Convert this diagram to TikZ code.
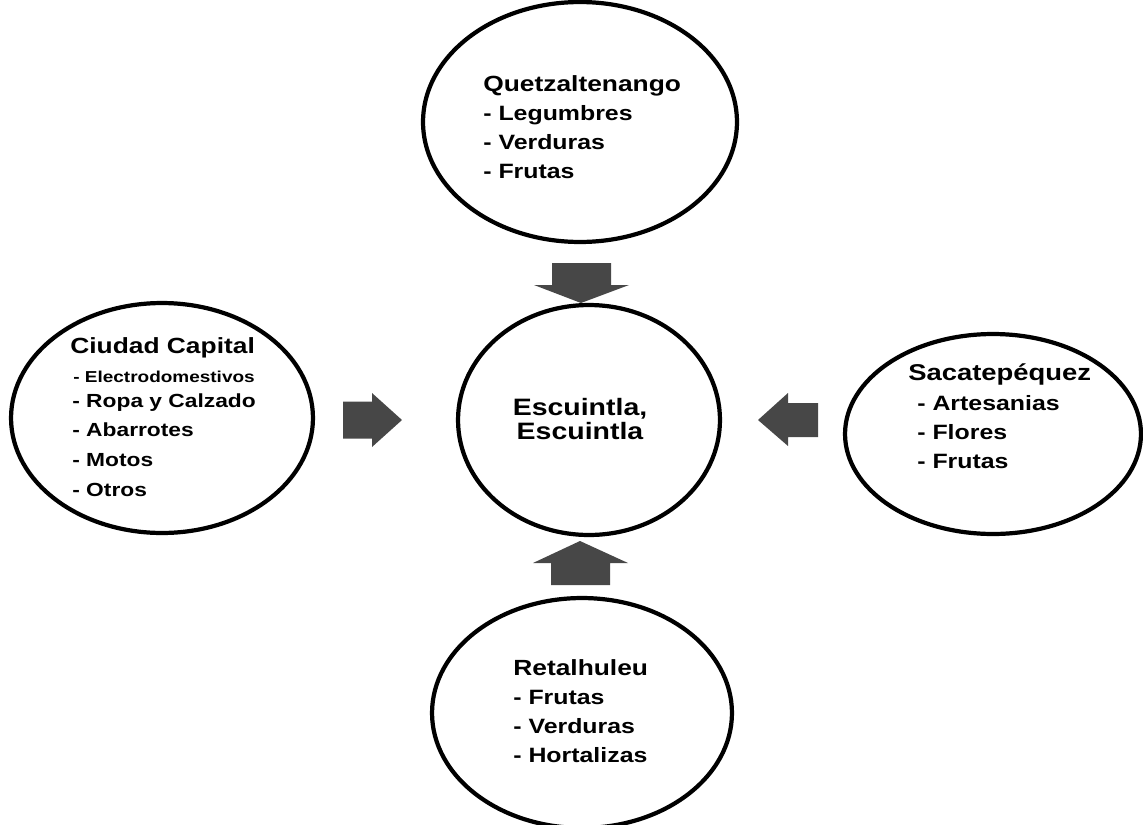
\documentclass[tikz,border=0pt]{standalone}
\usepackage{fontspec}
\setmainfont{Liberation Sans}[FakeStretch=1.2]
\usetikzlibrary{shapes.geometric}

\newcommand{\titlefont}{\bfseries\fontsize{12.5}{15}\selectfont}
\newcommand{\itemfont}{\bfseries\fontsize{11.8}{16.5}\selectfont}

\begin{document}
\begin{tikzpicture}[
    x=0.02cm, y=-0.02cm,
    region/.style={ellipse, draw, line width=2.4pt, inner sep=0},
    title/.style={anchor=base west, inner sep=0, font=\titlefont},
    items/.style={anchor=north west, inner sep=0, align=left, font=\itemfont},
    flow/.style={fill=black!72}
]
\useasboundingbox (0,0) rectangle (1143,825);

% Regions
\node[region, minimum width=6.28cm, minimum height=4.8cm] (quetz) at (580,122) {};
\node[region, minimum width=5.24cm, minimum height=4.6cm] (escu) at (589,420) {};
\node[region, minimum width=6.04cm, minimum height=4.6cm] (capital) at (162,418) {};
\node[region, minimum width=5.92cm, minimum height=4.0cm] (sacat) at (993,434) {};
\node[region, minimum width=6.0cm, minimum height=4.6cm] (retal) at (582,713) {};

% Texts
\node[title] (quetztitle) at (483,91) {Quetzaltenango};
\node[items] (quetzitems) at (483,105) {- Legumbres\\- Verduras\\- Frutas};

\node[inner sep=0, align=center, font=\bfseries\fontsize{13.5}{14.2}\selectfont] (escutext) at (580,419) {Escuintla,\\Escuintla};

\node[title] (capitaltitle) at (70,353) {Ciudad Capital};
\node[anchor=base west, inner sep=0, font=\bfseries\fontsize{9}{11}\selectfont] (capitalsmall) at (73,382) {- Electrodomestivos};
\node[items, font=\bfseries\fontsize{10.8}{17}\selectfont] (capitalitems) at (72,393) {- Ropa y Calzado\\- Abarrotes\\- Motos\\- Otros};

\node[title, font=\bfseries\fontsize{13}{15}\selectfont] (sacattitle) at (908,380) {Sacatepéquez};
\node[items] (sacatitems) at (917,395) {- Artesanias\\- Flores\\- Frutas};

\node[title] (retaltitle) at (513,675) {Retalhuleu};
\node[items] (retalitems) at (513,690) {- Frutas\\- Verduras\\- Hortalizas};

% Flows
\fill[flow] (552,263) -- (611,263) -- (611,285) -- (629,285) -- (581,303)
    -- (534,285) -- (552,285) -- cycle;
\fill[flow] (343,401.5) -- (372,401.5) -- (372,393) -- (402,420)
    -- (372,447) -- (372,438.5) -- (343,438.5) -- cycle;
\fill[flow] (818,403) -- (788,403) -- (788,393) -- (758,420)
    -- (788,446) -- (788,437) -- (818,437) -- cycle;
\fill[flow] (551,585) -- (610,585) -- (610,563) -- (628,563) -- (580,541)
    -- (533,563) -- (551,563) -- cycle;

\end{tikzpicture}
\end{document}
